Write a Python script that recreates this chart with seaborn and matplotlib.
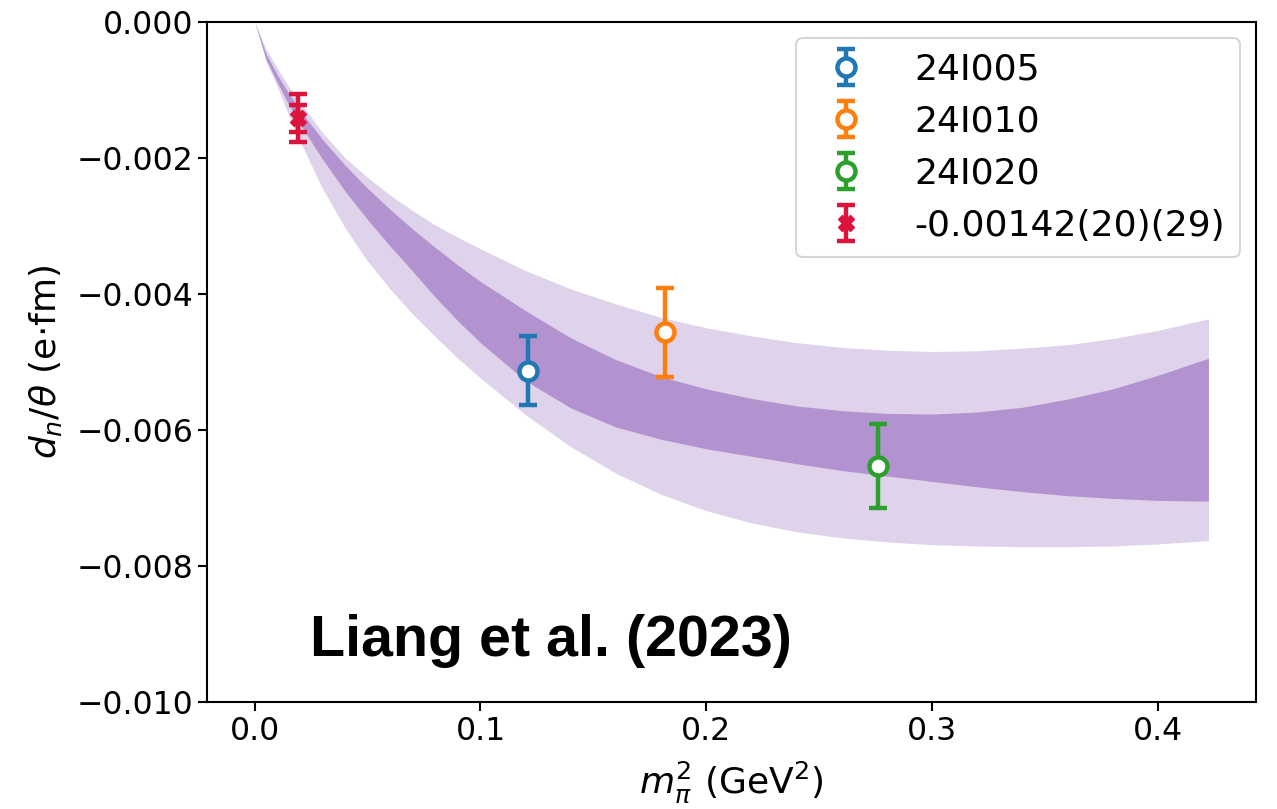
import numpy as np
import matplotlib
matplotlib.use("Agg")
import matplotlib.pyplot as plt
import seaborn as sns

# Lattice ensembles: m_pi^2 (GeV^2), d_n/theta (e fm) and errors
ensembles = ["24I005", "24I010", "24I020"]
ens_m2 = [0.1212, 0.1816, 0.2759]
ens_dn = [-0.00513, -0.00457, -0.00653]
ens_err = [0.00051, 0.00066, 0.00062]

# Physical-point result -0.00142(20)(29)
phys_label = "-0.00142(20)(29)"
phys_m2 = [0.0190]
phys_dn = [-0.00142]
phys_stat = [0.00020]
phys_sys = [0.00029]

# Chiral-fit bands along m_pi^2: outer (total) and inner (statistical)
band_m2 = [0.0, 0.005, 0.01, 0.015, 0.02, 0.03, 0.04, 0.05, 0.06, 0.07, 0.08, 0.09,
           0.1, 0.12, 0.14, 0.16, 0.18, 0.2, 0.22, 0.24, 0.26, 0.28, 0.3, 0.32,
           0.34, 0.36, 0.38, 0.4, 0.4224]
outer_hi = [0.0, -0.0004, -0.00068, -0.00095, -0.00118, -0.00163, -0.002, -0.00229,
            -0.00255, -0.00278, -0.00299, -0.00317, -0.00334, -0.00366, -0.00393,
            -0.00415, -0.00435, -0.0045, -0.00462, -0.00472, -0.00479, -0.00483,
            -0.00485, -0.00484, -0.0048, -0.00475, -0.00466, -0.00454, -0.00437]
outer_lo = [0.0, -0.00058, -0.00095, -0.00137, -0.00175, -0.00245, -0.00303, -0.00352,
            -0.00393, -0.0043, -0.00463, -0.00495, -0.00524, -0.00578, -0.00625,
            -0.00664, -0.00695, -0.00719, -0.00737, -0.0075, -0.00759, -0.00765,
            -0.00769, -0.00771, -0.00772, -0.00772, -0.00771, -0.00768, -0.00763]
inner_hi = [0.0, -0.00047, -0.00078, -0.00105, -0.0013, -0.00173, -0.00211, -0.00245,
            -0.00276, -0.00305, -0.00332, -0.00358, -0.00382, -0.00425, -0.00465,
            -0.00497, -0.00522, -0.0054, -0.00554, -0.00565, -0.00572, -0.00576,
            -0.00577, -0.00574, -0.00567, -0.00555, -0.0054, -0.0052, -0.00495]
inner_lo = [0.0, -0.00055, -0.00089, -0.00121, -0.0015, -0.00202, -0.00249, -0.00291,
            -0.0033, -0.00367, -0.00405, -0.0044, -0.00472, -0.00528, -0.00568,
            -0.00596, -0.00614, -0.00628, -0.00639, -0.0065, -0.0066, -0.00668,
            -0.00676, -0.00684, -0.00691, -0.00697, -0.00701, -0.00704, -0.00705]

sns.set_theme(style="ticks")
plt.rcParams.update({
    "font.family": ["DejaVu Sans"],
    "mathtext.fontset": "dejavusans",
    "text.color": "black",
    "axes.labelcolor": "black",
    "axes.edgecolor": "black",
    "xtick.color": "black",
    "ytick.color": "black",
    "axes.linewidth": 1.5,
    "xtick.major.size": 6.5,
    "ytick.major.size": 6.5,
    "xtick.major.width": 1.5,
    "ytick.major.width": 1.5,
    "xtick.labelsize": 22.7,
    "ytick.labelsize": 22.7,
    "axes.labelsize": 26,
    "axes.unicode_minus": True,
})

palette = sns.color_palette("tab10")

fig = plt.figure(figsize=(12.77, 8.09), dpi=100)
ax = fig.add_axes([0.1621, 0.1326, 0.8215, 0.8406])

ax.fill_between(band_m2, outer_lo, outer_hi, color="#DFD2EB", lw=0, zorder=1)
ax.fill_between(band_m2, inner_lo, inner_hi, color="#B292CF", lw=0, zorder=2)

eb_kw = dict(fmt="o", ms=13, mew=3.2, mfc="white", elinewidth=3.2,
             capsize=6.5, capthick=3.2, zorder=5)
for name, x, y, e, c in zip(ensembles, ens_m2, ens_dn, ens_err, palette[:3]):
    ax.errorbar([x], [y], yerr=[e], color=c, mec=c, label=name, **eb_kw)

crimson = "#DC143C"
phys_tot = list(np.hypot(phys_stat, phys_sys))
ax.errorbar(phys_m2, phys_dn, yerr=phys_tot, fmt="X", ms=12, color=crimson,
            elinewidth=3.2, capsize=6.5, capthick=3.2, zorder=6, label=phys_label)
ax.errorbar(phys_m2, phys_dn, yerr=phys_stat, fmt="none", color=crimson,
            elinewidth=3.2, capsize=6.5, capthick=3.2, zorder=6)

ax.set_xlim(-0.0211, 0.4435)
ax.set_ylim(-0.010, 0.0)
ax.set_xticks([0.0, 0.1, 0.2, 0.3, 0.4])
ax.set_yticks([0.0, -0.002, -0.004, -0.006, -0.008, -0.010])
for s in ax.spines.values():
    s.set_visible(True)

ax.set_xlabel(r"$m_\pi^2$ (GeV$^2$)", labelpad=9)
ax.set_ylabel(r"$d_n/\theta$ (e$\cdot$fm)", labelpad=9)

leg = ax.legend(loc="upper right", fontsize=26, frameon=True, fancybox=True,
                edgecolor="#cccccc", framealpha=0.8, handletextpad=0.9,
                borderaxespad=0.45)
leg.get_frame().set_linewidth(1.5)

ax.text(0.098, 0.0676, "Liang et al. (2023)", transform=ax.transAxes,
        fontsize=41.3, fontweight="bold", color="black",
        family=["Liberation Sans", "DejaVu Sans"],
        ha="left", va="baseline", zorder=7)

fig.savefig("out.png", dpi=100)
